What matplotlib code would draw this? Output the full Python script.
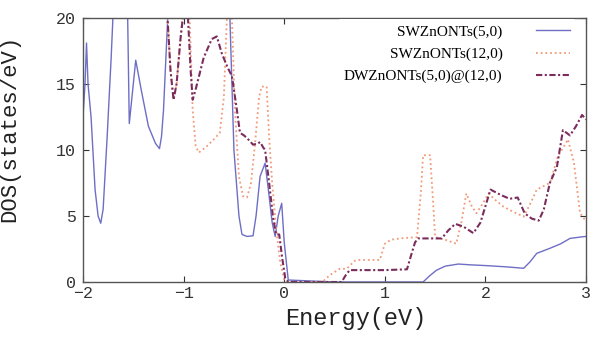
import numpy as np
import matplotlib.pyplot as plt

# SWZnONTs(5,0)
e_sw5 = [-2.0, -1.98, -1.965, -1.95, -1.92, -1.88, -1.85, -1.824, -1.80, -1.76,
         -1.72, -1.70, -1.65, -1.58, -1.556, -1.54, -1.52, -1.476, -1.42, -1.35,
         -1.28, -1.24, -1.22, -1.20, -1.155, -1.10, -0.60, -0.54, -0.50, -0.45,
         -0.42, -0.37, -0.31, -0.28, -0.24, -0.19, -0.15, -0.12, -0.09, -0.06,
         -0.025, 0.0, 0.04, 0.5, 1.0, 1.38, 1.45, 1.515, 1.6, 1.73,
         1.85, 2.01, 2.2, 2.38, 2.44, 2.51, 2.64, 2.75, 2.84, 2.97, 3.0]
dos_sw5 = [12.5, 15.0, 18.1, 15.0, 12.5, 7.0, 5.0, 4.45, 5.5, 11.0,
           17.0, 20.5, 26.0, 26.0, 20.0, 12.0, 13.5, 16.8, 14.5, 11.8,
           10.5, 10.1, 11.0, 13.0, 20.5, 26.0, 26.0, 20.0, 10.0, 5.0,
           3.6, 3.45, 3.5, 5.0, 8.0, 9.0, 6.5, 4.5, 3.45, 5.0,
           5.96, 3.0, 0.15, 0.0, 0.0, 0.0, 0.5, 0.9, 1.2, 1.36,
           1.3, 1.24, 1.15, 1.04, 1.5, 2.17, 2.55, 2.9, 3.3, 3.43, 3.45]

# SWZnONTs(12,0)
e_sw12 = [-2.0, -1.2, -1.16, -1.13, -1.10, -1.07, -1.03, -1.0, -0.97, -0.94,
          -0.91, -0.88, -0.85, -0.78, -0.70, -0.64, -0.60, -0.57, -0.545, -0.52,
          -0.49, -0.45, -0.41, -0.37, -0.33, -0.29, -0.25, -0.225, -0.175, -0.15,
          -0.12, -0.08, -0.04, 0.0, 0.03, 0.38, 0.45, 0.55, 0.62, 0.70,
          0.74, 0.95, 1.0, 1.06, 1.15, 1.32, 1.36, 1.38, 1.45, 1.48,
          1.5, 1.6, 1.71, 1.76, 1.81, 1.86, 1.91, 1.97, 2.03, 2.1,
          2.18, 2.28, 2.38, 2.45, 2.51, 2.64, 2.72, 2.82, 2.88, 2.94, 3.0]
dos_sw12 = [25.0, 25.0, 20.0, 16.0, 13.8, 15.0, 18.5, 21.0, 23.0, 20.0,
            13.0, 10.3, 9.8, 10.2, 10.8, 11.3, 14.0, 20.0, 23.0, 20.0,
            13.0, 8.0, 6.5, 6.4, 7.5, 10.5, 14.0, 14.8, 14.8, 11.0,
            7.5, 4.0, 1.5, 0.2, 0.0, 0.0, 0.5, 1.0, 1.0, 1.6,
            1.67, 1.67, 2.9, 3.2, 3.3, 3.4, 7.0, 9.6, 9.6, 6.0,
            3.4, 3.2, 2.9, 4.5, 6.7, 5.8, 5.2, 5.9, 6.7, 6.2,
            5.7, 5.3, 4.95, 6.0, 7.0, 7.5, 9.5, 10.8, 9.0, 5.2, 4.6]

# DWZnONTs(5,0)@(12,0)
e_dw = [-2.0, -1.2, -1.16, -1.13, -1.10, -1.07, -1.03, -1.0, -0.96, -0.93,
        -0.91, -0.88, -0.80, -0.72, -0.67, -0.62, -0.56, -0.52, -0.47, -0.44,
        -0.40, -0.37, -0.31, -0.26, -0.24, -0.21, -0.19, -0.15, -0.11, -0.08,
        -0.05, -0.02, 0.01, 0.04, 0.5, 0.57, 0.61, 0.65, 0.8, 1.0,
        1.22, 1.26, 1.3, 1.33, 1.45, 1.565, 1.63, 1.70, 1.78, 1.88,
        1.95, 2.05, 2.15, 2.24, 2.32, 2.39, 2.46, 2.53, 2.58, 2.64,
        2.71, 2.77, 2.84, 2.90, 2.96, 3.0]
dos_dw = [25.0, 25.0, 20.0, 16.0, 13.8, 15.0, 18.5, 20.5, 20.5, 16.0,
          13.8, 14.6, 17.0, 18.4, 18.6, 17.3, 16.2, 15.6, 13.0, 11.3,
          11.1, 10.9, 10.4, 10.5, 10.6, 10.2, 10.0, 7.5, 4.8, 3.6,
          3.6, 1.8, 0.3, 0.0, 0.0, 0.0, 0.5, 0.9, 0.9, 0.9,
          0.96, 2.0, 3.0, 3.3, 3.3, 3.3, 3.9, 4.4, 4.2, 3.7,
          4.5, 7.0, 6.6, 6.3, 6.4, 5.2, 4.8, 4.65, 5.5, 7.5,
          8.7, 11.5, 11.1, 11.8, 12.65, 12.3]

labels = ['SWZnONTs(5,0)', 'SWZnONTs(12,0)', 'DWZnONTs(5,0)@(12,0)']
xticks = [-2, -1, 0, 1, 2, 3]
yticks = [0, 5, 10, 15, 20]

mono = 'Liberation Mono'

fig = plt.figure(figsize=(5.95, 3.38), dpi=100)
ax = fig.add_axes([0.1395, 0.1657, 0.8455, 0.7813])

ax.plot(e_sw5, dos_sw5, color='#6e6ec6', lw=1.0, label=labels[0])
ax.plot(e_sw12, dos_sw12, color='#f09a78', lw=1.3, ls=(0, (1, 1.6)), label=labels[1])
ax.plot(e_dw, dos_dw, color='#7a2c5c', lw=1.5, ls=(0, (3, 1.2, 1, 1.2)), label=labels[2])

ax.set_xlim(-2, 3)
ax.set_ylim(0, 20)
ax.set_xticks(xticks)
ax.set_yticks(yticks)
ax.tick_params(direction='in', top=True, right=True, length=4, width=0.8,
               labelsize=12, colors='#333333', pad=5)
ax.tick_params(axis='x', pad=3)
for lab in ax.get_xticklabels() + ax.get_yticklabels():
    lab.set_family(mono)
for sp in ax.spines.values():
    sp.set_color('#555555')
    sp.set_linewidth(1.0)

ax.set_xlabel('Energy(eV)', family=mono, fontsize=17, color='#222222')
ax.xaxis.set_label_coords(0.543, -0.095)
ax.set_ylabel('DOS(states/eV)', family=mono, fontsize=16, color='#222222')
ax.yaxis.set_label_coords(-0.125, 0.58)

leg = ax.legend(loc='upper right', bbox_to_anchor=(0.995, 1.025), markerfirst=False,
                frameon=True, facecolor='white', edgecolor='none', framealpha=1,
                handlelength=2.2, handletextpad=2.2, labelspacing=0.55,
                prop={'family': 'Liberation Serif', 'size': 11})

fig.savefig('out.png', dpi=100)
